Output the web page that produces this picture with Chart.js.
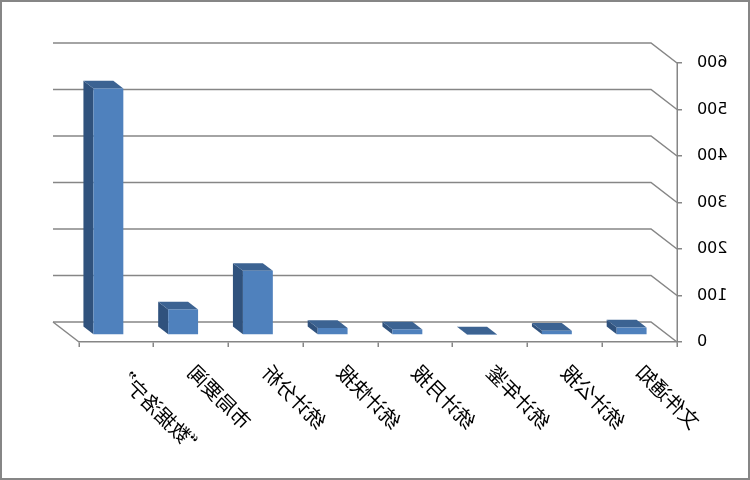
<!DOCTYPE html>
<html>
<head>
<meta charset="utf-8">
<script src="https://cdn.jsdelivr.net/npm/chart.js@4/dist/chart.umd.min.js"></script>
<style>
  html, body { margin: 0; padding: 0; background: #fff; }
  #wrap { width: 750px; height: 480px; position: relative; }
  /* the reference is a mirrored picture, so the whole canvas is flipped */
  #chart { transform: scaleX(-1); }
</style>
</head>
<body>
<div id="wrap"><canvas id="chart" width="750" height="480"></canvas></div>
<script>
const categories = ['文件通知', '统计公报', '统计年鉴', '统计月报', '统计快报', '统计分析', '市局要闻', '“数据洛宁”'];
const counts = [16, 9, 1, 12, 15, 138, 55, 530];
const yTicks = [0, 100, 200, 300, 400, 500, 600];

const GRID = '#868686';
const FRONT = '#4F81BD', SIDE = '#30527D', TOP = '#3C6392';
// depth of the wall and of the bars (oblique 3D look)
const wallDx = 26, wallDy = -20;
const barShift = { x: 8, y: -7 }, barDx = 10, barDy = -7.7;

const fake3d = {
    id: 'fake3d',
    beforeDraw(chart) {
        const ctx = chart.ctx;
        ctx.save();
        ctx.fillStyle = '#fff';
        ctx.fillRect(0, 0, chart.width, chart.height);
        ctx.strokeStyle = GRID;
        ctx.lineWidth = 2;
        ctx.strokeRect(1, 1, chart.width - 2, chart.height - 2);
        ctx.restore();
    },
    beforeDatasetsDraw(chart) {
        const ctx = chart.ctx;
        const ys = chart.scales.y;
        const l = chart.chartArea.left, r = chart.chartArea.right;
        ctx.save();
        ctx.strokeStyle = GRID;
        ctx.lineWidth = 1.5;
        yTicks.forEach(v => {
            const y = ys.getPixelForValue(v);
            ctx.beginPath();
            ctx.moveTo(l, y);
            ctx.lineTo(l + wallDx, y + wallDy);
            ctx.lineTo(r + wallDx, y + wallDy);
            ctx.stroke();
        });
        // floor, far side
        const y0 = ys.getPixelForValue(0);
        ctx.beginPath();
        ctx.moveTo(r, y0);
        ctx.lineTo(r + wallDx, y0 + wallDy);
        ctx.stroke();
        ctx.restore();

        // shift bars into the middle of the depth and draw their side and top faces
        ctx.save();
        ctx.translate(barShift.x, barShift.y);
        chart.getDatasetMeta(0).data.forEach(bar => {
            const p = bar.getProps(['x', 'y', 'base', 'width'], true);
            const left = p.x - p.width / 2, right = p.x + p.width / 2;
            ctx.fillStyle = SIDE;
            ctx.beginPath();
            ctx.moveTo(right, p.y);
            ctx.lineTo(right + barDx, p.y + barDy);
            ctx.lineTo(right + barDx, p.base + barDy);
            ctx.lineTo(right, p.base);
            ctx.closePath();
            ctx.fill();
            ctx.fillStyle = TOP;
            ctx.beginPath();
            ctx.moveTo(left, p.y);
            ctx.lineTo(left + barDx, p.y + barDy);
            ctx.lineTo(right + barDx, p.y + barDy);
            ctx.lineTo(right, p.y);
            ctx.closePath();
            ctx.fill();
        });
    },
    afterDatasetsDraw(chart) {
        chart.ctx.restore();
    }
};

new Chart(document.getElementById('chart'), {
    type: 'bar',
    data: {
        labels: categories,
        datasets: [{
            data: counts,
            backgroundColor: FRONT,
            borderWidth: 0,
            barPercentage: 0.4,
            categoryPercentage: 1
        }]
    },
    options: {
        responsive: false,
        animation: false,
        devicePixelRatio: 1,
        layout: { padding: { left: 0, top: 63, right: 79, bottom: 0 } },
        plugins: {
            legend: { display: false },
            tooltip: { enabled: false }
        },
        scales: {
            x: {
                offset: true,
                grid: { offset: true, drawOnChartArea: false, tickLength: 5, color: GRID, lineWidth: 1.5 },
                border: { color: GRID, width: 1.5 },
                ticks: {
                    minRotation: 45, maxRotation: 45, padding: 13, color: '#000',
                    font: { family: '"Noto Sans CJK SC", sans-serif', size: 20 }
                },
                afterFit(s) { s.height = 138; }
            },
            y: {
                min: 0, max: 600,
                afterBuildTicks(s) { s.ticks = yTicks.map(v => ({ value: v })); },
                grid: { drawOnChartArea: false, tickLength: 5, color: GRID, lineWidth: 1.5 },
                border: { color: GRID, width: 1.5 },
                ticks: {
                    padding: 15, color: '#000',
                    font: { family: '"DejaVu Sans", sans-serif', size: 16 }
                },
                afterFit(s) { s.width = 73; }
            }
        }
    },
    plugins: [fake3d]
});
</script>
</body>
</html>
